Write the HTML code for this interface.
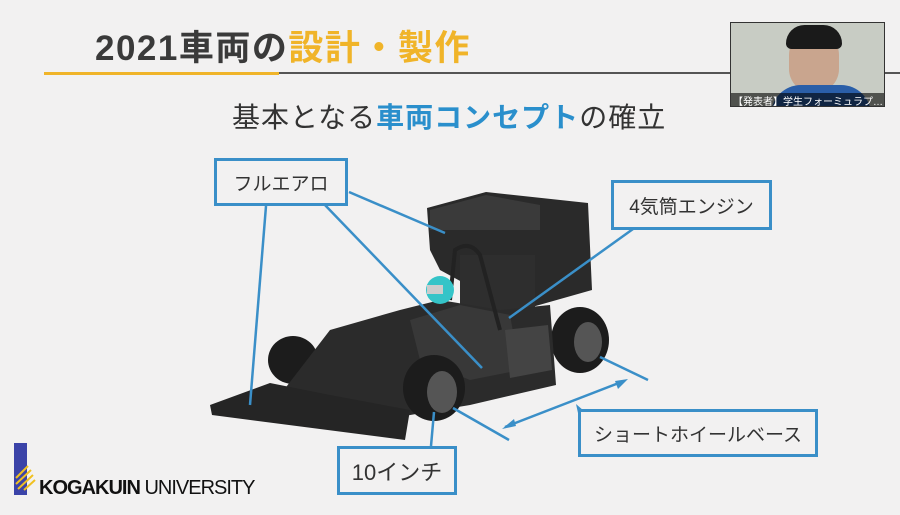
<!DOCTYPE html>
<html><head><meta charset="utf-8"><style>
body{margin:0;width:900px;height:515px;background:#f2f1f1;overflow:hidden;position:relative;font-family:"Liberation Sans","Noto Sans CJK JP",sans-serif}
.t{position:absolute;white-space:nowrap}
.box{position:absolute;border:3px solid #3a8fc8;box-sizing:border-box;background:#f2f1f1;display:flex;align-items:center;justify-content:center;font-size:19px;color:#333}
</style></head><body>
<div class="t" style="left:95px;top:20px;font-size:35px;font-weight:bold;color:#3a3a3a;letter-spacing:1.5px">2021車両の<span style="color:#f0b429">設計・製作</span></div>
<div style="position:absolute;left:44px;top:72px;width:235px;height:3px;background:#f0b429"></div>
<div style="position:absolute;left:279px;top:72px;width:621px;height:2px;background:#555"></div>
<div class="t" style="left:232px;top:96px;font-size:28px;color:#333;letter-spacing:1px">基本となる<span style="color:#2a8fcc;font-weight:bold">車両コンセプト</span>の確立</div>
<div style="position:absolute;left:730px;top:22px;width:155px;height:85px;background:#c8ccc4;border:1px solid #333;box-sizing:border-box;overflow:hidden">
<div style="position:absolute;left:58px;top:8px;width:50px;height:62px;border-radius:24px;background:#c9a58e"></div>
<div style="position:absolute;left:55px;top:2px;width:56px;height:24px;border-radius:20px 20px 6px 6px;background:#1a1a1a"></div>
<div style="position:absolute;left:40px;top:62px;width:100px;height:30px;border-radius:30px 30px 0 0;background:#2a5ea8"></div>
<div class="t" style="left:0;top:70px;font-size:10px;color:#fff;background:rgba(0,0,0,.6);padding:0 2px">【発表者】学生フォーミュラプ…</div>
</div>
<svg style="position:absolute;left:0;top:0" width="900" height="515">
<polygon points="427,208 486,192 588,203 592,290 532,307 530,262 495,262 495,300 440,270 430,250" fill="#2a2a2a"/>
<rect x="460" y="255" width="75" height="60" fill="#2e2e2e"/>
<polygon points="430,210 486,195 540,205 540,230 430,230" fill="#3a3a3a"/>
<ellipse cx="580" cy="340" rx="29" ry="33" fill="#1c1c1c"/><ellipse cx="588" cy="342" rx="14" ry="20" fill="#555"/>
<ellipse cx="293" cy="360" rx="25" ry="24" fill="#1c1c1c"/>
<polygon points="280,395 330,330 400,310 440,300 500,310 550,305 556,385 470,405 380,420 300,415" fill="#2b2b2b"/>
<polygon points="410,320 460,305 510,315 520,370 470,380 420,360" fill="#383838"/>
<polygon points="505,330 548,325 552,370 510,378" fill="#444"/>
<path d="M450,300 L455,250 Q470,240 480,255 L500,330" stroke="#222" stroke-width="4" fill="none"/>
<polygon points="210,405 270,383 330,395 410,410 405,440 212,415" fill="#252525"/>
<ellipse cx="434" cy="388" rx="31" ry="33" fill="#1c1c1c"/><ellipse cx="442" cy="392" rx="15" ry="21" fill="#555"/>
<circle cx="440" cy="290" r="14" fill="#35c4c8"/><rect x="427" y="285" width="16" height="9" fill="#ccc"/>
<g stroke="#3a8fc8" stroke-width="2.5" fill="none">
<line x1="266" y1="206" x2="250" y2="405"/>
<line x1="324" y1="204" x2="482" y2="368"/>
<line x1="349" y1="192" x2="445" y2="233"/>
<line x1="633" y1="229" x2="509" y2="318"/>
<line x1="600" y1="357" x2="648" y2="380"/>
<line x1="453" y1="408" x2="509" y2="440"/>
<line x1="505" y1="427" x2="624" y2="381"/>
<line x1="434" y1="412" x2="431" y2="446"/>
</g>
<polygon points="502,429 514,419 516,426" fill="#3a8fc8"/>
<polygon points="628,379 615,381 618,389" fill="#3a8fc8"/>
<polygon points="576,404 584,411 578,413" fill="#3a8fc8"/>
<rect x="14" y="443" width="13" height="52" fill="#3b43a8"/>
<g stroke="#f0c020" stroke-width="2"><line x1="16" y1="478" x2="28" y2="466"/><line x1="16" y1="484" x2="31" y2="470"/><line x1="18" y1="489" x2="33" y2="475"/><line x1="24" y1="490" x2="35" y2="480"/></g>
</svg>
<div class="t" style="left:39px;top:477px;font-size:20px;color:#111;letter-spacing:-1px"><b style="font-weight:600">KOGAKUIN</b> UNIVERSITY</div>
<div class="box" style="left:214px;top:158px;width:134px;height:48px">フルエアロ</div>
<div class="box" style="left:611px;top:180px;width:161px;height:50px">4気筒エンジン</div>
<div class="box" style="left:578px;top:409px;width:240px;height:48px">ショートホイールベース</div>
<div class="box" style="left:337px;top:446px;width:120px;height:49px;font-size:22px">10インチ</div>
</body></html>
